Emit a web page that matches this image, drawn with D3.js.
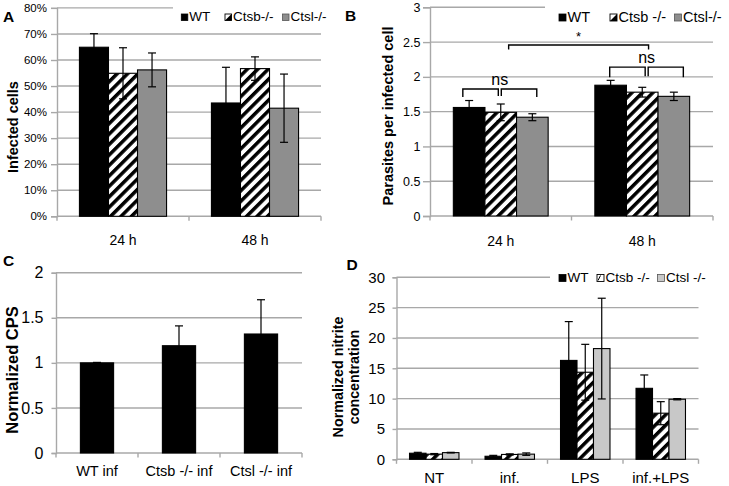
<!DOCTYPE html>
<html><head><meta charset="utf-8">
<script src="https://cdn.jsdelivr.net/npm/d3@7"></script>
<style>html,body{margin:0;padding:0;background:#fff;} svg{display:block;font-family:"Liberation Sans",Arial,sans-serif;}</style>
</head><body>
<svg id="c" width="729" height="486"></svg>
<script>
// ---------- DATA ----------
const panelACategories = ["24 h", "48 h"];
const panelASeries = ["WT", "Ctsb-/-", "Ctsl-/-"];
const panelAMeans = [[64.9, 54.9, 56.2], [43.5, 56.7, 41.5]];
const panelAErrors = [[5.2, 9.8, 6.5], [13.7, 4.5, 13.1]];
const panelATicks = [0, 10, 20, 30, 40, 50, 60, 70, 80];

const panelBCategories = ["24 h", "48 h"];
const panelBSeries = ["WT", "Ctsb -/-", "Ctsl-/-"];
const panelBMeans = [[1.56, 1.49, 1.42], [1.88, 1.78, 1.72]];
const panelBErrors = [[0.1, 0.12, 0.05], [0.07, 0.07, 0.06]];
const panelBTicks = [0, 0.5, 1, 1.5, 2, 2.5, 3];
// brackets: [catStart, seriesPosStart, catEnd, seriesPosEnd, yValue]
const panelBBrackets = [[0, -0.2, 0, 2.14, 1.825], [1, -0.03, 1, 2.3, 2.14], [0, 1.25, 1, 1.2, 2.457]];
const panelBBracketLabels = ["ns", "ns", "*"];

const panelCCategories = ["WT inf", "Ctsb -/- inf", "Ctsl -/- inf"];
const panelCMeans = [1.0, 1.19, 1.32];
const panelCErrors = [0.005, 0.22, 0.38];
const panelCTicks = [0, 0.5, 1, 1.5, 2];

const panelDCategories = ["NT", "inf.", "LPS", "inf.+LPS"];
const panelDSeries = ["WT", "Ctsb -/-", "Ctsl -/-"];
const panelDMeans = [[1.0, 0.85, 1.1], [0.5, 0.8, 0.85], [16.3, 14.35, 18.25], [11.7, 7.6, 9.9]];
const panelDErrors = [[0.15, 0.1, 0.05], [0.15, 0.1, 0.2], [6.4, 4.6, 8.3], [2.2, 1.9, 0.1]];
const panelDTicks = [0, 5, 10, 15, 20, 25, 30];

// ---------- DRAW ----------
const svg = d3.select("#c");
svg.append("rect").attr("width", 729).attr("height", 486).attr("fill", "#fff");
const defs = svg.append("defs");
const pat = defs.append("pattern").attr("id", "hatch").attr("patternUnits", "userSpaceOnUse")
  .attr("width", 7.4).attr("height", 7.4).attr("patternTransform", "rotate(45)");
pat.append("rect").attr("width", 7.4).attr("height", 7.4).attr("fill", "#fff");
pat.append("rect").attr("x", 0).attr("width", 3.5).attr("height", 7.4).attr("fill", "#000");

const GRID = "#a8a8a8";

function panel(o) {
  const g = svg.append("g");
  const y = d3.scaleLinear().domain([0, o.ymax]).range([o.y0, o.y1]);
  const x0 = d3.scaleBand().domain(o.categories).range([o.x0, o.x1]);
  // gridlines
  g.append("g").selectAll("line").data(o.ticks.filter(t => t > 0)).join("line")
    .attr("x1", o.x0).attr("x2", o.x1).attr("y1", d => y(d)).attr("y2", d => y(d))
    .attr("stroke", GRID).attr("stroke-width", 1.4);
  // y axis
  const ya = d3.axisLeft(y).tickValues(o.ticks).tickSize(o.tickLen).tickPadding(o.tickPad).tickFormat(o.fmt);
  const yg = g.append("g").attr("transform", `translate(${o.x0},0)`).call(ya);
  yg.select(".domain").attr("stroke", GRID).attr("stroke-width", 1.4);
  yg.selectAll(".tick line").attr("stroke", GRID).attr("stroke-width", 1.4);
  yg.selectAll("text").attr("font-size", o.tickFont).attr("fill", "#000").attr("font-family", "Liberation Sans, Arial, sans-serif");
  // x axis
  const xa = d3.axisBottom(x0).tickSize(0).tickPadding(o.xPad);
  const xg = g.append("g").attr("transform", `translate(0,${o.y0})`).call(xa);
  xg.select(".domain").remove();
  xg.selectAll("text").attr("font-size", o.xFont).attr("fill", "#000").attr("font-family", "Liberation Sans, Arial, sans-serif");
  g.append("line").attr("x1", o.x0).attr("x2", o.x1).attr("y1", o.y0).attr("y2", o.y0).attr("stroke", GRID).attr("stroke-width", 1.4);
  const bounds = o.categories.map(c => x0(c)).concat([o.x1]);
  g.append("g").selectAll("line").data(bounds).join("line")
    .attr("x1", d => d).attr("x2", d => d).attr("y1", o.y0).attr("y2", o.y0 + 4.5)
    .attr("stroke", GRID).attr("stroke-width", 1.4);
  // bars
  const series = o.series || ["_"];
  const groupW = x0.bandwidth() * o.groupFrac;
  const x1 = d3.scaleBand().domain(series).range([0, groupW]);
  const barX = (ci, si) => x0(o.categories[ci]) + (x0.bandwidth() - groupW) / 2 + x1(series[si]);
  const centerX = (ci, sp) => barX(ci, 0) + x1.bandwidth() * (sp + 0.5);
  const items = [];
  o.means.forEach((row, ci) => row.forEach((v, si) => items.push({ci, si, v, e: o.errors[ci][si]})));
  g.append("g").selectAll("rect").data(items).join("rect")
    .attr("x", d => barX(d.ci, d.si)).attr("width", x1.bandwidth())
    .attr("y", d => y(d.v)).attr("height", d => o.y0 - y(d.v))
    .attr("fill", d => o.fills[d.si]).attr("stroke", "#000").attr("stroke-width", 1.1);
  const eg = g.append("g").attr("stroke", "#000").attr("stroke-width", 1.2);
  items.forEach(d => {
    const cx = centerX(d.ci, d.si);
    eg.append("line").attr("x1", cx).attr("x2", cx).attr("y1", y(d.v + d.e)).attr("y2", y(d.v - d.e));
    eg.append("line").attr("x1", cx - 4).attr("x2", cx + 4).attr("y1", y(d.v + d.e)).attr("y2", y(d.v + d.e));
    eg.append("line").attr("x1", cx - 4).attr("x2", cx + 4).attr("y1", y(d.v - d.e)).attr("y2", y(d.v - d.e));
  });
  // y title
  const t = g.append("text").attr("transform", `translate(${o.titleX},${o.titleY}) rotate(-90)`)
    .attr("text-anchor", "middle").attr("font-weight", "bold").attr("font-size", o.titleFont);
  o.title.forEach((line, i) => t.append("tspan").attr("x", 0).attr("dy", i === 0 ? (-(o.title.length - 1) * 0.55 + 0.35) + "em" : "1.1em").text(line));
  // panel letter
  g.append("text").attr("x", o.letterX).attr("y", o.letterY).attr("font-weight", "bold").attr("font-size", 15.5).text(o.letter);
  return {g, y, x0, centerX};
}

function legend(g, o) {
  g.append("rect").attr("x", o.bgX).attr("y", o.bgY).attr("width", o.bgW).attr("height", o.bgH).attr("fill", "#fff");
  o.items.forEach((it, i) => {
    const sx = o.xs[i], s = o.sq, sy = o.y - s - 0.5;
    if (it.kind === "solid") {
      g.append("rect").attr("x", sx).attr("y", sy).attr("width", s).attr("height", s).attr("fill", it.fill).attr("stroke", it.stroke).attr("stroke-width", 0.8);
    } else if (it.kind === "half") {
      g.append("rect").attr("x", sx).attr("y", sy).attr("width", s).attr("height", s).attr("fill", "#fff").attr("stroke", "#000").attr("stroke-width", 0.9);
      g.append("path").attr("d", `M${sx + s},${sy} L${sx + s},${sy + s} L${sx},${sy + s} Z`).attr("fill", "#000");
    } else {
      g.append("rect").attr("x", sx).attr("y", sy).attr("width", s).attr("height", s).attr("fill", "#fff").attr("stroke", "#000").attr("stroke-width", 0.9);
      g.append("line").attr("x1", sx + 1).attr("y1", sy + s - 1).attr("x2", sx + s * 0.5).attr("y2", sy + 1).attr("stroke", "#000").attr("stroke-width", 1);
    }
    g.append("text").attr("x", sx + s + 1.5).attr("y", o.y).attr("font-size", o.font).text(it.label);
  });
}

// Panel A
const A = panel({
  categories: panelACategories, series: panelASeries, means: panelAMeans, errors: panelAErrors,
  ticks: panelATicks, ymax: 80, x0: 57, x1: 321, y0: 216.3, y1: 7.9, groupFrac: 0.66,
  fills: ["#000", "url(#hatch)", "#8e8e8e"], fmt: d => d + "%", tickLen: 6, tickPad: 4, tickFont: 11.5,
  xFont: 14, xPad: 19, title: ["Infected cells"], titleX: 13, titleY: 127, titleFont: 14.5,
  letter: "A", letterX: 3, letterY: 22
});
legend(A.g, {bgX: 173, bgY: 0, bgW: 162, bgH: 26, y: 21, sq: 6.5, font: 13.5, xs: [181.3, 225, 282.5],
  items: panelASeries.map((s, i) => ({label: s, kind: ["solid", "half", "solid"][i], fill: ["#000", "#fff", "#8e8e8e"][i], stroke: ["#000", "#000", "#555"][i]}))});

// Panel B
const B = panel({
  categories: panelBCategories, series: panelBSeries, means: panelBMeans, errors: panelBErrors,
  ticks: panelBTicks, ymax: 3, x0: 430, x1: 713, y0: 216, y1: 7.3, groupFrac: 0.67,
  fills: ["#000", "url(#hatch)", "#8e8e8e"], fmt: d => String(d), tickLen: 7, tickPad: 2.5, tickFont: 12.5,
  xFont: 14, xPad: 20, title: ["Parasites per infected cell"], titleX: 388, titleY: 116, titleFont: 14.5,
  letter: "B", letterX: 345, letterY: 21
});
legend(B.g, {bgX: 545, bgY: 0, bgW: 184, bgH: 26, y: 21.5, sq: 7, font: 14.5, xs: [559, 610, 674.5],
  items: panelBSeries.map((s, i) => ({label: s, kind: ["solid", "half", "solid"][i], fill: ["#000", "#fff", "#8e8e8e"][i], stroke: ["#000", "#000", "#555"][i]}))});
// brackets
const legDrop = [8, 10, 4.5];
panelBBrackets.forEach((b, i) => {
  const xa = B.centerX(b[0], b[1]), xb = B.centerX(b[2], b[3]), yy = B.y(b[4]);
  const bg = B.g.append("g").attr("stroke", "#000").attr("stroke-width", 1.4).attr("fill", "none");
  if (i < 2) {
    const xm = B.centerX(b[0], i === 0 ? 0.97 : 1.14);
    bg.append("path").attr("d", `M${xa},${yy + legDrop[i]} V${yy} H${xm - 1.5} V${yy + legDrop[i] - 1} M${xm + 1.5},${yy + legDrop[i] - 1} V${yy} H${xb} V${yy + legDrop[i]}`);
  } else {
    bg.append("path").attr("d", `M${xa},${yy + legDrop[i]} V${yy} H${xb} V${yy + legDrop[i]}`);
  }
  const lx = i === 2 ? (xa + xb) / 2 : (i === 0 ? B.centerX(b[0], 0.97) : B.centerX(b[0], 1.14));
  B.g.append("text").attr("x", lx).attr("y", i === 2 ? yy - 4 : yy - 4.5).attr("text-anchor", "middle")
    .attr("font-size", i === 2 ? 13 : 16).text(panelBBracketLabels[i]);
});

// Panel C
const C = panel({
  categories: panelCCategories, series: null, means: panelCMeans.map(v => [v]), errors: panelCErrors.map(v => [v]),
  ticks: panelCTicks, ymax: 2, x0: 56, x1: 302, y0: 453, y1: 272.7, groupFrac: 0.405,
  fills: ["#000"], fmt: d => String(d), tickLen: 4.5, tickPad: 8, tickFont: 16,
  xFont: 14.5, xPad: 13, title: ["Normalized CPS"], titleX: 12, titleY: 370, titleFont: 16.5,
  letter: "C", letterX: 3, letterY: 266
});

// Panel D
const D = panel({
  categories: panelDCategories, series: panelDSeries, means: panelDMeans, errors: panelDErrors,
  ticks: panelDTicks, ymax: 30, x0: 396.5, x1: 698.5, y0: 459.3, y1: 277.3, groupFrac: 0.655,
  fills: ["#000", "url(#hatch)", "#c8c8c8"], fmt: d => String(d), tickLen: 4, tickPad: 7.5, tickFont: 15,
  xFont: 15, xPad: 13, title: ["Normalized nitrite", "concentration"], titleX: 346, titleY: 377, titleFont: 14.3,
  letter: "D", letterX: 346.5, letterY: 269.5
});
legend(D.g, {bgX: 550, bgY: 268, bgW: 179, bgH: 17, y: 282, sq: 7, font: 13.5, xs: [559, 597, 657.5],
  items: panelDSeries.map((s, i) => ({label: s, kind: ["solid", "slash", "solid"][i], fill: ["#000", "#fff", "#c8c8c8"][i], stroke: ["#000", "#000", "#555"][i]}))});
</script>
</body></html>
